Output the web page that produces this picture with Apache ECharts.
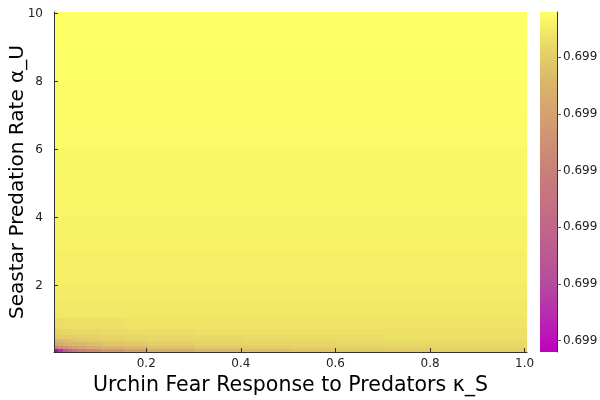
<!DOCTYPE html>
<html>
<head>
<meta charset="utf-8">
<script src="https://cdn.jsdelivr.net/npm/echarts@6/dist/echarts.min.js"></script>
<style>html,body{margin:0;padding:0;background:#fff}#chart{width:600px;height:400px}</style>
</head>
<body>
<div id="chart"></div>
<script>
// Cell edges (kappa_S along x, alpha_U along y)
const xEdges = [0.005, 0.015, 0.025, 0.035, 0.045, 0.055, 0.075, 0.105, 0.155, 0.205, 0.305, 0.405, 0.505, 0.605, 0.705, 0.805, 0.905, 1.005];
const yEdges = [0.05, 0.15, 0.25, 0.35, 0.45, 0.55, 0.75, 1.05, 1.55, 2.05, 3.05, 4.05, 5.05, 6.05, 7.05, 8.05, 9.05, 10.05];
// One row per y band (bottom to top), one value per x column
const cellValues = [
  [0.698890, 0.698926, 0.698974, 0.699004, 0.699025, 0.699046, 0.699064, 0.699082, 0.699100, 0.699115, 0.699127, 0.699136, 0.699142, 0.699145, 0.699148, 0.699151, 0.699151],
  [0.699055, 0.699070, 0.699082, 0.699091, 0.699100, 0.699106, 0.699115, 0.699124, 0.699130, 0.699139, 0.699145, 0.699148, 0.699151, 0.699154, 0.699154, 0.699157, 0.699157],
  [0.699106, 0.699112, 0.699118, 0.699124, 0.699127, 0.699130, 0.699136, 0.699142, 0.699145, 0.699151, 0.699154, 0.699157, 0.699157, 0.699160, 0.699160, 0.699160, 0.699160],
  [0.699130, 0.699133, 0.699136, 0.699139, 0.699142, 0.699145, 0.699148, 0.699151, 0.699154, 0.699157, 0.699157, 0.699160, 0.699160, 0.699163, 0.699163, 0.699163, 0.699163],
  [0.699145, 0.699148, 0.699148, 0.699151, 0.699151, 0.699154, 0.699154, 0.699157, 0.699157, 0.699160, 0.699160, 0.699163, 0.699163, 0.699163, 0.699166, 0.699166, 0.699166],
  [0.699154, 0.699157, 0.699157, 0.699157, 0.699160, 0.699160, 0.699160, 0.699163, 0.699163, 0.699163, 0.699166, 0.699166, 0.699166, 0.699166, 0.699166, 0.699166, 0.699166],
  [0.699163, 0.699163, 0.699166, 0.699166, 0.699166, 0.699166, 0.699166, 0.699166, 0.699169, 0.699169, 0.699169, 0.699169, 0.699169, 0.699169, 0.699169, 0.699169, 0.699169],
  [0.699172, 0.699172, 0.699172, 0.699172, 0.699172, 0.699172, 0.699172, 0.699172, 0.699172, 0.699172, 0.699172, 0.699172, 0.699172, 0.699172, 0.699172, 0.699172, 0.699172],
  [0.699175, 0.699175, 0.699175, 0.699175, 0.699175, 0.699175, 0.699175, 0.699175, 0.699175, 0.699175, 0.699175, 0.699175, 0.699175, 0.699175, 0.699175, 0.699175, 0.699175],
  [0.699178, 0.699178, 0.699178, 0.699178, 0.699178, 0.699178, 0.699178, 0.699178, 0.699178, 0.699178, 0.699178, 0.699178, 0.699178, 0.699178, 0.699178, 0.699178, 0.699178],
  [0.699181, 0.699181, 0.699181, 0.699181, 0.699181, 0.699181, 0.699181, 0.699181, 0.699181, 0.699181, 0.699181, 0.699181, 0.699181, 0.699181, 0.699181, 0.699181, 0.699181],
  [0.699183, 0.699183, 0.699183, 0.699183, 0.699183, 0.699183, 0.699183, 0.699183, 0.699183, 0.699183, 0.699183, 0.699183, 0.699183, 0.699183, 0.699183, 0.699183, 0.699183],
  [0.699184, 0.699184, 0.699184, 0.699184, 0.699184, 0.699184, 0.699184, 0.699184, 0.699184, 0.699184, 0.699184, 0.699184, 0.699184, 0.699184, 0.699184, 0.699184, 0.699184],
  [0.699186, 0.699186, 0.699186, 0.699186, 0.699186, 0.699186, 0.699186, 0.699186, 0.699186, 0.699186, 0.699186, 0.699186, 0.699186, 0.699186, 0.699186, 0.699186, 0.699186],
  [0.699187, 0.699187, 0.699187, 0.699187, 0.699187, 0.699187, 0.699187, 0.699187, 0.699187, 0.699187, 0.699187, 0.699187, 0.699187, 0.699187, 0.699187, 0.699187, 0.699187],
  [0.699189, 0.699189, 0.699189, 0.699189, 0.699189, 0.699189, 0.699189, 0.699189, 0.699189, 0.699189, 0.699189, 0.699189, 0.699189, 0.699189, 0.699189, 0.699189, 0.699189],
  [0.699190, 0.699190, 0.699190, 0.699190, 0.699190, 0.699190, 0.699190, 0.699190, 0.699190, 0.699190, 0.699190, 0.699190, 0.699190, 0.699190, 0.699190, 0.699190, 0.699190]
];
const colorMin = 0.698890;
const colorMax = 0.699190;
const xTicks = [0.2, 0.4, 0.6, 0.8, 1.0];
const yTicks = [2, 4, 6, 8, 10];
const cbTicks = [0.69890, 0.69895, 0.69900, 0.69905, 0.69910, 0.69915];
const xTitle = 'Urchin Fear Response to Predators κ_S';
const yTitle = 'Seastar Predation Rate α_U';

const cmap = ['#c000c0', '#b828b0', '#b44c9c', '#bc5c90', '#c26c86', '#c87a7c', '#ce8c76', '#d4a270', '#dab86a', '#e8d866', '#ffff66'];

const cells = [];
for (let r = 0; r < cellValues.length; r++) {
  for (let c = 0; c < cellValues[r].length; c++) {
    cells.push([xEdges[c], xEdges[c + 1], yEdges[r], yEdges[r + 1], cellValues[r][c]]);
  }
}

const FONT = 'DejaVu Sans';
const axisCol = '#333';
const chart = echarts.init(document.getElementById('chart'), null, {renderer: 'canvas'});
chart.setOption({
  animation: false,
  backgroundColor: '#fff',
  grid: [
    {left: 54, top: 12, width: 473, height: 340, outerBoundsMode: 'none', containLabel: false},
    {left: 540, top: 12, width: 17, height: 340, outerBoundsMode: 'none', containLabel: false}
  ],
  xAxis: [
    {gridIndex: 0, type: 'value', min: xEdges[0], max: xEdges[xEdges.length - 1], z: 10,
     name: xTitle, nameLocation: 'middle', nameGap: 14,
     nameTextStyle: {fontFamily: FONT, fontSize: 20.5, color: '#000'},
     axisLine: {show: true, onZero: false, lineStyle: {color: axisCol, width: 1}},
     axisTick: {show: true, inside: true, length: 4, customValues: xTicks, lineStyle: {color: axisCol}},
     axisLabel: {customValues: xTicks, margin: 6, fontFamily: FONT, fontSize: 12, color: '#222', formatter: v => v.toFixed(1)},
     splitLine: {show: false}},
    {gridIndex: 1, type: 'value', min: 0, max: 1, show: false}
  ],
  yAxis: [
    {gridIndex: 0, type: 'value', min: yEdges[0], max: yEdges[yEdges.length - 1], z: 10,
     name: yTitle, nameLocation: 'middle', nameGap: 26, nameRotate: 90, nameMoveOverlap: false,
     nameTextStyle: {fontFamily: FONT, fontSize: 20, color: '#000'},
     axisLine: {show: true, onZero: false, lineStyle: {color: axisCol, width: 1}},
     axisTick: {show: true, inside: true, length: 4, customValues: yTicks, lineStyle: {color: axisCol}},
     axisLabel: {customValues: yTicks, margin: 11, fontFamily: FONT, fontSize: 12, color: '#222', formatter: v => String(Math.round(v))},
     splitLine: {show: false}},
    {gridIndex: 1, type: 'value', position: 'right', min: colorMin, max: colorMax, z: 10,
     axisLine: {show: true, onZero: false, lineStyle: {color: axisCol, width: 1}},
     axisTick: {show: true, inside: false, length: 4, customValues: cbTicks, lineStyle: {color: '#555'}},
     axisLabel: {customValues: cbTicks, margin: 6, fontFamily: FONT, fontSize: 12, color: '#222', formatter: v => v.toFixed(3)},
     splitLine: {show: false}}
  ],
  visualMap: {type: 'continuous', show: false, min: colorMin, max: colorMax, dimension: 4, seriesIndex: 0, inRange: {color: cmap}},
  series: [
    {type: 'custom', xAxisIndex: 0, yAxisIndex: 0, clip: true,
     encode: {x: [0, 1], y: [2, 3]},
     data: cells,
     renderItem: function (params, api) {
       const a = api.coord([api.value(0), api.value(3)]);
       const b = api.coord([api.value(1), api.value(2)]);
       const x0 = Math.floor(a[0]), y0 = Math.floor(a[1]);
       const x1 = Math.ceil(b[0]), y1 = Math.ceil(b[1]);
       const col = api.visual('color');
       return {type: 'rect', shape: {x: x0, y: y0, width: x1 - x0, height: y1 - y0},
               style: {fill: col}};
     }},
    {type: 'custom', xAxisIndex: 1, yAxisIndex: 1,
     encode: {x: [0, 1], y: [2, 3]},
     data: [[0, 1, colorMin, colorMax]],
     renderItem: function (params, api) {
       const a = api.coord([api.value(0), api.value(3)]);
       const b = api.coord([api.value(1), api.value(2)]);
       const stops = cmap.map((c, i) => ({offset: i / (cmap.length - 1), color: c}));
       return {type: 'rect', shape: {x: a[0], y: a[1], width: b[0] - a[0], height: b[1] - a[1]},
               style: {fill: new echarts.graphic.LinearGradient(0, 1, 0, 0, stops)}};
     }}
  ]
});
</script>
</body>
</html>
